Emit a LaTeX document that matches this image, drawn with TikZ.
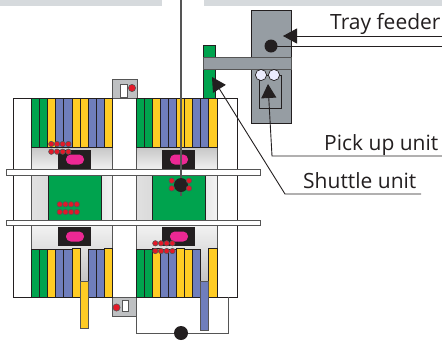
\documentclass[tikz,border=0pt]{standalone}
\usepackage{fontspec}
\setmainfont{Open Sans}
\usetikzlibrary{arrows.meta}
\definecolor{gstripe}{RGB}{0,163,78}
\definecolor{ystripe}{RGB}{255,204,36}
\definecolor{bstripe}{RGB}{111,126,188}
\definecolor{pinkk}{RGB}{236,40,148}
\definecolor{redd}{RGB}{228,24,40}
\definecolor{topgray}{RGB}{214,218,221}
\definecolor{unitgray}{RGB}{150,157,163}
\definecolor{inkk}{RGB}{35,31,32}
\definecolor{edgeg}{RGB}{85,85,85}
\definecolor{boxg}{RGB}{190,192,194}
\tikzset{
  x=1pt,y=-1pt,
  stripe/.style={draw=inkk,line width=0.7pt},
  panel/.style={draw=edgeg,line width=0.7pt,top color=black!22,bottom color=black!5},
  side/.style={draw=edgeg,line width=0.7pt,left color=black!12,right color=black!5,middle color=black!18},
  reddot/.style={fill=redd,draw=edgeg,line width=0.6pt},
  leader/.style={draw=inkk,line width=0.9pt},
  tip/.style={-{Triangle[length=14pt,width=15pt]}},
  lbl/.style={font=\fontsize{21}{24}\selectfont,text=inkk,inner sep=0pt,anchor=base west},
  wire/.style={draw=edgeg,line width=0.9pt},
  railbar/.style={draw=edgeg,line width=1pt,fill=white},
}
\newcommand{\topstripes}[2]{%
  \foreach \c [count=\i from 0] in {#2}{
    \draw[stripe,fill=\c] ({#1+\i*8.07},98.5) rectangle ({#1+(\i+1)*8.07},147.5);
  }
}
\newcommand{\reds}[2]{%
  \foreach \i in {0,1,2,3}{
    \fill[reddot] ({#1+\i*5.7},#2) circle (2.7);
    \fill[reddot] ({#1+\i*5.7},#2+7.7) circle (2.7);
  }
}
\begin{document}
\begin{tikzpicture}
\useasboundingbox (0,0) rectangle (442,341);
% top bars
\fill[topgray] (0,0) rectangle (162,6);
\fill[topgray] (204,0) rectangle (442,5.5);
% frame
\draw[draw=inkk,line width=0.7pt,fill=white] (13.5,98.5) rectangle (237,297);
% bottom loop
\draw[wire] (136,297) -- (136,333) -- (228.5,333) -- (228.5,297);
% small boxes
\draw[draw=edgeg,line width=1pt,fill=boxg] (112.5,79.5) rectangle (137.5,98.5);
\draw[draw=edgeg,line width=1pt,fill=white] (120.5,84) rectangle (127,97);
\fill[reddot] (132,88) circle (3.6);
\draw[draw=edgeg,line width=1pt,fill=boxg] (112,297) rectangle (136.5,316);
\draw[draw=edgeg,line width=1pt,fill=white] (122,300) rectangle (128.5,311.5);
\fill[reddot] (116.5,307.5) circle (3.6);
% green pillar and feeder
\draw[draw=inkk,line width=0.7pt,fill=gstripe] (203.5,45.5) rectangle (215,98.5);
\draw[draw=inkk,line width=0.8pt,fill=unitgray] (251.5,10) rectangle (291,123);
\fill[unitgray,draw=edgeg,line width=0.8pt] (203.5,57) rectangle (291,69);
\draw[draw=inkk,line width=0.8pt] (259.5,75) rectangle (281,108);
\draw[draw=inkk,line width=0.7pt,fill=black!12!blue!8!white] (261,75) circle (5.6);
\draw[draw=inkk,line width=0.7pt,fill=black!12!blue!8!white] (274,75) circle (5.6);
% panels
\foreach \xa/\xb in {31.5/112.5,136.2/217}{
  \draw[panel] (\xa,147.5) rectangle (\xb,170);
  \draw[side] (\xa,175) rectangle (\xb,220);
  \draw[panel,top color=black!5,bottom color=black!28] (\xa,225) rectangle (\xb,297);
}
\draw[draw=inkk,line width=0.7pt,fill=gstripe] (48,175) rectangle (101,220);
\draw[draw=inkk,line width=0.7pt,fill=gstripe] (152.5,175) rectangle (205.5,220);
% black plates
\foreach \xa/\ya in {58/150,162/150,58/227,162/227}{
  \fill[inkk] (\xa,\ya) rectangle ++(33,19);
  \fill[pinkk,rounded corners=4.8pt] (\xa+8,\ya+4.5) rectangle ++(18,10);
}
% stripes top
\topstripes{31.5}{gstripe,gstripe,ystripe,bstripe,bstripe,ystripe,ystripe,bstripe,bstripe,ystripe}
\topstripes{136.2}{gstripe,gstripe,ystripe,bstripe,bstripe,ystripe,ystripe,bstripe,bstripe,ystripe}
% stripes bottom
\foreach \xa/\c/\yt in {
 31.5/gstripe/249.5,39.57/gstripe/249.5,47.64/ystripe/249.5,55.71/bstripe/249.5,63.78/bstripe/249.5,71.85/ystripe/248.5,
 88/bstripe/249.5,96.07/bstripe/249.5,104.14/ystripe/248.5,
 136.2/gstripe/249.5,144.27/gstripe/249.5,152.34/ystripe/248.5,160.41/bstripe/249.5,168.48/bstripe/249.5,176.55/ystripe/248.5,184.62/ystripe/249.5,192.69/bstripe/249.5,208.83/ystripe/248.5}{
  \draw[stripe,fill=\c] (\xa,\yt) rectangle ++(8.07,{297-\yt});
}
% hanging stripes
\draw[draw=edgeg,line width=0.8pt,fill=ystripe] (79.9,281) rectangle (88,328.5);
\draw[draw=edgeg,line width=0.8pt,fill=bstripe] (200.7,281) rectangle (208.8,330);
% rails
\draw[railbar] (6.5,169.5) rectangle (260.5,175);
\draw[railbar] (6.5,220) rectangle (260.5,225);
% centre wire
\draw[draw=edgeg,line width=1.2pt] (181,0) -- (181,196);
\fill[inkk] (181,185) circle (7);
\fill[inkk] (181,333) circle (7);
% red dots
\reds{51.3}{144}
\reds{59.7}{204.3}
\reds{155.3}{243.3}
\foreach \px/\py in {171.7/180.7,189/180.7,171.7/188.3,189/188.3}{
  \fill[reddot] (\px,\py) circle (2.7);
}
% labels
\node[lbl] (tray) at (330,29) {Tray feeder};
\node[lbl] (pick) at (324,150) {Pick up unit};
\node[lbl] (shut) at (303,188) {Shuttle unit};
% leaders
\coordinate (trayT) at (283,36);
\coordinate (trayE) at (442,36);
\coordinate (dotA) at (271,46);
\coordinate (dotE) at (442,46);
\coordinate (pickT) at (268,84);
\coordinate (pickK) at (272,156);
\coordinate (pickE) at (442,156);
\coordinate (shutT) at (212,77);
\coordinate (shutK) at (285,194);
\coordinate (shutE) at (421,194);
\fill[inkk] (dotA) circle (6.5);
\draw[leader] (dotA) -- (dotE);
\draw[leader,tip] (trayE) -- (trayT);
\draw[leader,tip] (pickE) -- (pickK) -- (pickT);
\draw[leader,tip] (shutE) -- (shutK) -- (shutT);
\end{tikzpicture}
\end{document}
